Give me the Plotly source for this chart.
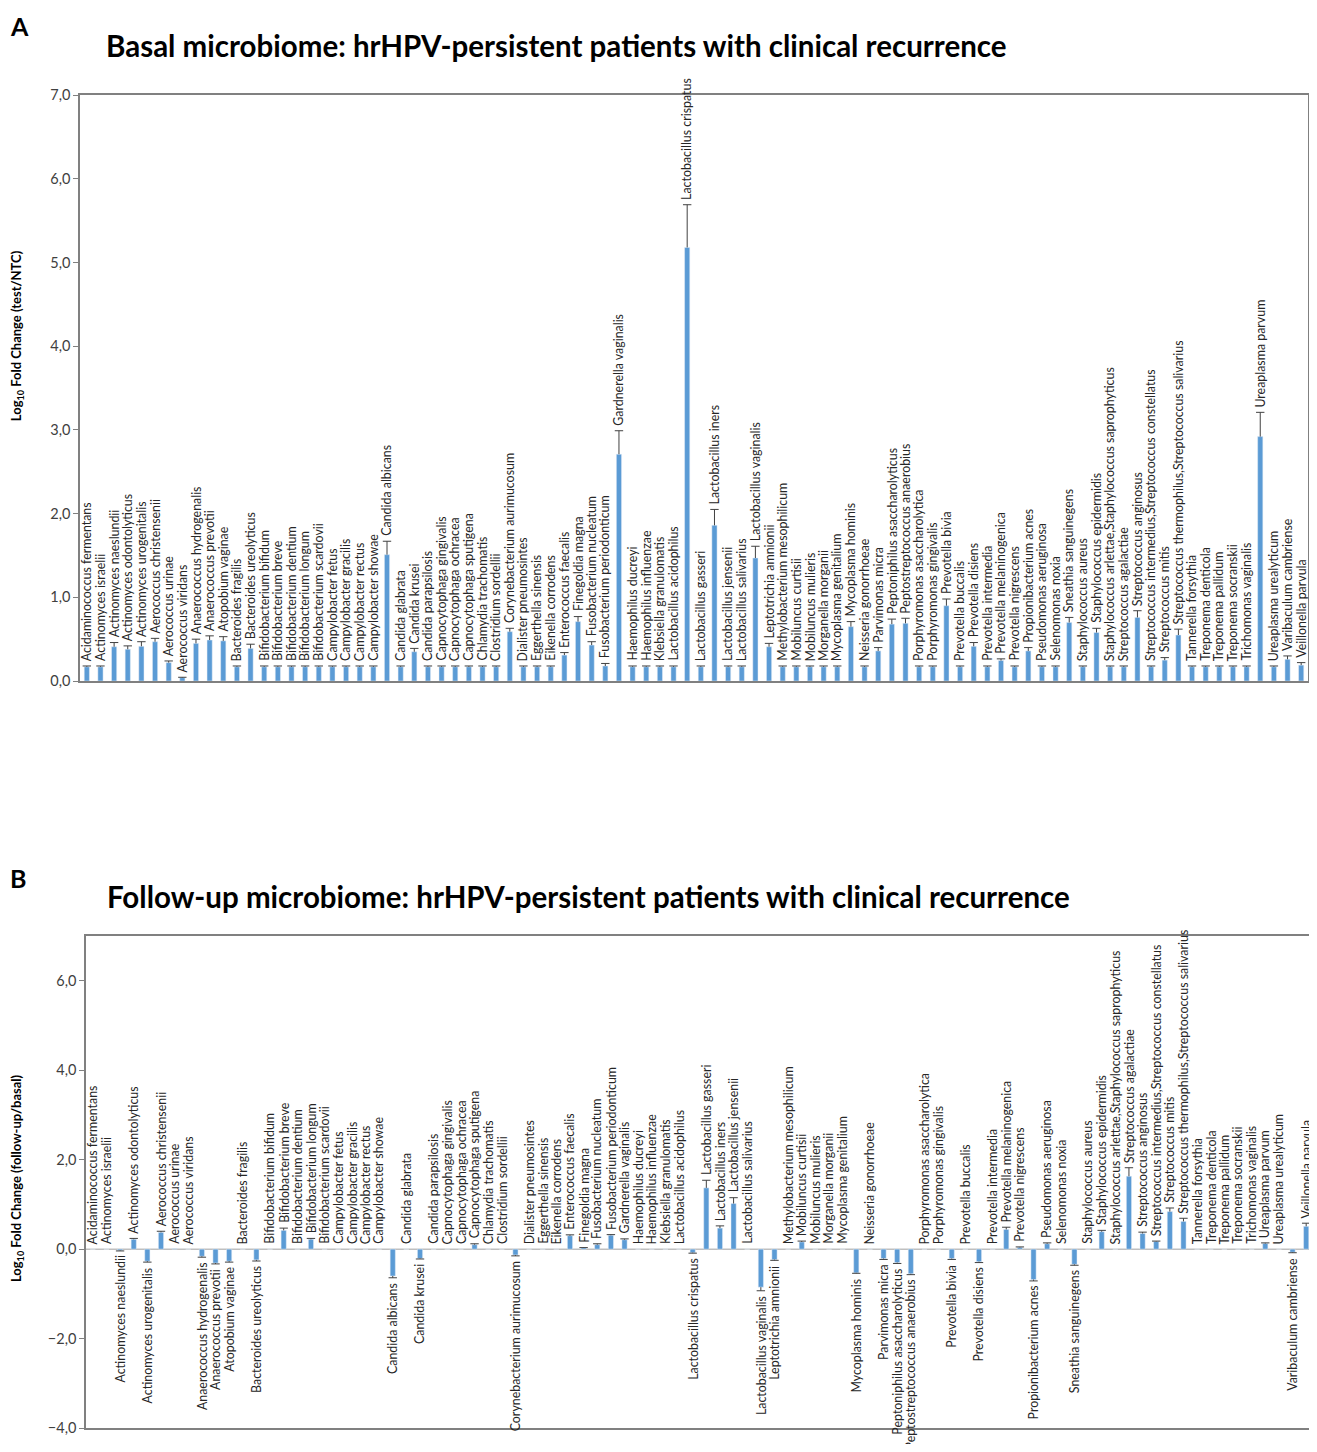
import plotly.graph_objects as go

# Espécies avaliadas (mesma ordem nos dois painéis)
especies = [
    "Acidaminococcus fermentans", "Actinomyces israelii", "Actinomyces naeslundii",
    "Actinomyces odontolyticus", "Actinomyces urogenitalis", "Aerococcus christensenii",
    "Aerococcus urinae", "Aerococcus viridans", "Anaerococcus hydrogenalis",
    "Anaerococcus prevotii", "Atopobium vaginae", "Bacteroides fragilis",
    "Bacteroides ureolyticus", "Bifidobacterium bifidum", "Bifidobacterium breve",
    "Bifidobacterium dentium", "Bifidobacterium longum", "Bifidobacterium scardovii",
    "Campylobacter fetus", "Campylobacter gracilis", "Campylobacter rectus",
    "Campylobacter showae", "Candida albicans", "Candida glabrata", "Candida krusei",
    "Candida parapsilosis", "Capnocytophaga gingivalis", "Capnocytophaga ochracea",
    "Capnocytophaga sputigena", "Chlamydia trachomatis", "Clostridium sordellii",
    "Corynebacterium aurimucosum", "Dialister pneumosintes", "Eggerthella sinensis",
    "Eikenella corrodens", "Enterococcus faecalis", "Finegoldia magna",
    "Fusobacterium nucleatum", "Fusobacterium periodonticum", "Gardnerella vaginalis",
    "Haemophilus ducreyi", "Haemophilus influenzae", "Klebsiella granulomatis",
    "Lactobacillus acidophilus", "Lactobacillus crispatus", "Lactobacillus gasseri",
    "Lactobacillus iners", "Lactobacillus jensenii", "Lactobacillus salivarius",
    "Lactobacillus vaginalis", "Leptotrichia amnionii", "Methylobacterium mesophilicum",
    "Mobiluncus curtisii", "Mobiluncus mulieris", "Morganella morganii",
    "Mycoplasma genitalium", "Mycoplasma hominis", "Neisseria gonorrhoeae",
    "Parvimonas micra", "Peptoniphilus asaccharolyticus", "Peptostreptococcus anaerobius",
    "Porphyromonas asaccharolytica", "Porphyromonas gingivalis", "Prevotella bivia",
    "Prevotella buccalis", "Prevotella disiens", "Prevotella intermedia",
    "Prevotella melaninogenica", "Prevotella nigrescens", "Propionibacterium acnes",
    "Pseudomonas aeruginosa", "Selenomonas noxia", "Sneathia sanguinegens",
    "Staphylococcus aureus", "Staphylococcus epidermidis",
    "Staphylococcus arlettae,Staphylococcus saprophyticus", "Streptococcus agalactiae",
    "Streptococcus anginosus", "Streptococcus intermedius,Streptococcus constellatus",
    "Streptococcus mitis", "Streptococcus thermophilus,Streptococcus salivarius",
    "Tannerella forsythia", "Treponema denticola", "Treponema pallidum",
    "Treponema socranskii", "Trichomonas vaginalis", "Ureaplasma parvum",
    "Ureaplasma urealyticum", "Varibaculum cambriense", "Veillonella parvula",
]

# Painel A - basal (log10 fold change test/NTC) e desvio
basal = [
    0.17, 0.17, 0.41, 0.38, 0.415, 0.47, 0.22, 0.04, 0.45, 0.49,
    0.48, 0.17, 0.39, 0.17, 0.17, 0.17, 0.17, 0.17, 0.17, 0.17,
    0.17, 0.17, 1.51, 0.17, 0.35, 0.17, 0.17, 0.17, 0.17, 0.17,
    0.17, 0.59, 0.17, 0.17, 0.17, 0.31, 0.71, 0.43, 0.18, 2.71,
    0.17, 0.17, 0.17, 0.17, 5.18, 0.17, 1.86, 0.17, 0.17, 1.47,
    0.41, 0.17, 0.17, 0.17, 0.17, 0.17, 0.65, 0.17, 0.36, 0.68,
    0.69, 0.17, 0.17, 0.90, 0.17, 0.415, 0.17, 0.245, 0.17, 0.36,
    0.17, 0.17, 0.70, 0.17, 0.58, 0.17, 0.17, 0.76, 0.17, 0.25,
    0.55, 0.17, 0.17, 0.17, 0.17, 0.17, 2.92, 0.17, 0.26, 0.19,
]
basal_dp = [
    0.01, 0.01, 0.05, 0.04, 0.055, 0.04, 0.02, 0.005, 0.05, 0.05,
    0.05, 0.01, 0.05, 0.01, 0.01, 0.01, 0.01, 0.01, 0.01, 0.01,
    0.01, 0.01, 0.16, 0.01, 0.04, 0.01, 0.01, 0.01, 0.01, 0.01,
    0.01, 0.04, 0.01, 0.01, 0.01, 0.03, 0.06, 0.04, 0.03, 0.28,
    0.01, 0.01, 0.01, 0.01, 0.51, 0.01, 0.19, 0.01, 0.01, 0.14,
    0.04, 0.01, 0.01, 0.01, 0.01, 0.01, 0.06, 0.01, 0.04, 0.06,
    0.06, 0.01, 0.01, 0.08, 0.01, 0.045, 0.01, 0.02, 0.01, 0.04,
    0.01, 0.01, 0.06, 0.01, 0.05, 0.01, 0.01, 0.08, 0.01, 0.03,
    0.07, 0.01, 0.01, 0.01, 0.01, 0.01, 0.29, 0.01, 0.04, 0.03,
]

# Painel B - seguimento (log10 fold change follow-up/basal) e desvio
seguimento = [
    0.0, 0.0, -0.03, 0.22, -0.27, 0.375, 0.01, 0.0, -0.16, -0.31,
    -0.27, 0.0, -0.24, 0.0, 0.42, 0.0, 0.22, 0.0, 0.0, 0.0,
    0.0, 0.0, -0.60, 0.0, -0.21, 0.0, 0.0, 0.0, 0.10, 0.0,
    0.0, -0.13, 0.0, 0.0, 0.0, 0.30, 0.03, 0.10, 0.31, 0.21,
    0.0, 0.0, 0.0, 0.0, -0.08, 1.37, 0.47, 1.02, 0.0, -0.85,
    -0.235, 0.0, 0.16, 0.0, 0.0, 0.0, -0.53, 0.0, -0.21, -0.30,
    -0.55, 0.0, 0.0, -0.21, 0.0, -0.28, 0.0, 0.44, 0.04, -0.68,
    0.12, 0.0, -0.34, 0.0, 0.39, 0.0, 1.63, 0.35, 0.17, 0.84,
    0.62, 0.0, 0.0, 0.0, 0.0, 0.0, 0.125, 0.0, -0.07, 0.51,
]
seguimento_dp = [
    0.0, 0.0, 0.01, 0.02, 0.02, 0.025, 0.0, 0.0, 0.02, 0.02,
    0.02, 0.0, 0.025, 0.0, 0.05, 0.0, 0.02, 0.0, 0.0, 0.0,
    0.0, 0.0, 0.04, 0.0, 0.01, 0.0, 0.0, 0.0, 0.02, 0.0,
    0.0, 0.02, 0.0, 0.0, 0.0, 0.02, 0.005, 0.02, 0.015, 0.02,
    0.0, 0.0, 0.0, 0.0, 0.01, 0.17, 0.05, 0.13, 0.0, 0.08,
    0.015, 0.0, 0.02, 0.0, 0.0, 0.0, 0.01, 0.0, 0.02, 0.02,
    0.02, 0.0, 0.0, 0.02, 0.0, 0.02, 0.0, 0.05, 0.01, 0.03,
    0.02, 0.0, 0.02, 0.0, 0.03, 0.0, 0.19, 0.03, 0.01, 0.08,
    0.07, 0.0, 0.0, 0.0, 0.0, 0.0, 0.015, 0.0, 0.01, 0.07,
]

# a pagina tem 8 px de margem no body
W, H = 1317 - 8, 1452 - 16
azul = "#5B9BD5"
fonte = "Lato"


def px(x):
    return (x - 8) / W


def py(y):
    return 1 - (y - 8) / H


fig = go.Figure()


def painel(valores, desvios, n):
    eixo_x = "x" if n == 1 else "x%d" % n
    eixo_y = "y" if n == 1 else "y%d" % n
    fig.add_trace(go.Bar(x=especies, y=valores, marker_color=azul, width=0.38,
                         xaxis=eixo_x, yaxis=eixo_y, showlegend=False))
    # barras de erro so para o lado de fora da barra (estilo Excel)
    lx, ly, cx, cy = [], [], [], []
    for nome, v, d in zip(especies, valores, desvios):
        if d <= 0:
            continue
        fim = v + d if v >= 0 else v - d
        lx += [nome, nome, None]
        ly += [v, fim, None]
        cx.append(nome)
        cy.append(fim)
    fig.add_trace(go.Scatter(x=lx, y=ly, mode="lines", line=dict(color="#404040", width=1),
                             xaxis=eixo_x, yaxis=eixo_y, showlegend=False, hoverinfo="skip"))
    fig.add_trace(go.Scatter(x=cx, y=cy, mode="markers",
                             marker=dict(symbol="line-ew", size=6, line=dict(color="#404040", width=1)),
                             xaxis=eixo_x, yaxis=eixo_y, showlegend=False, hoverinfo="skip"))
    # rotulos verticais
    for nome, v, d in zip(especies, valores, desvios):
        fim = v + d if v >= 0 else v - d
        fig.add_annotation(x=nome, y=fim, xref=eixo_x, yref=eixo_y, text=nome, textangle=-90,
                           showarrow=False, xanchor="center",
                           yanchor="bottom" if v >= 0 else "top",
                           yshift=3 if v >= 0 else -3,
                           font=dict(family=fonte, size=12.4, color="#262626"))


painel(basal, basal_dp, 1)
painel(seguimento, seguimento_dp, 2)

eixo_comum = dict(showline=True, linecolor="#808080", linewidth=1.5, mirror=True,
                  showgrid=False, zeroline=False)
eixo_y_comum = dict(tickformat=".1f", ticks="outside", ticklen=5, tickcolor="#808080",
                    tickfont=dict(family=fonte, size=14.5, color="#404040"))

fig.update_layout(
    width=W, height=H,
    margin=dict(l=0, r=0, t=0, b=0),
    plot_bgcolor="white", paper_bgcolor="white",
    separators=",.",
    font=dict(family=fonte, color="#404040"),
    xaxis=dict(domain=[px(80), px(1308)], anchor="y", showticklabels=False, ticks="",
               range=[-0.5, len(especies) - 0.5], **eixo_comum),
    yaxis=dict(domain=[py(680), py(87)], anchor="x", range=[0, 7], dtick=1,
               **eixo_y_comum, **eixo_comum),
    xaxis2=dict(domain=[px(86), px(1313)], anchor="y2", showticklabels=False, ticks="",
                range=[-0.5, len(especies) - 0.5], **eixo_comum),
    yaxis2=dict(domain=[py(1436), py(938)], anchor="x2", range=[-4, 7],
                tickvals=[-4, -2, 0, 2, 4, 6], **eixo_y_comum, **eixo_comum),
)

# linha do zero no painel B
fig.add_shape(type="line", xref="x2 domain", yref="y2", x0=0, x1=1, y0=0, y1=0,
              line=dict(color="#BFBFBF", width=1.5), layer="below")

# titulos e letras dos paineis
fig.add_annotation(x=px(8), y=py(17), xref="paper", yref="paper", text="<b>A</b>",
                   showarrow=False, xanchor="left", yanchor="middle",
                   font=dict(family=fonte, size=25, color="black"))
fig.add_annotation(x=px(104), y=py(37), xref="paper", yref="paper",
                   text="<b>Basal microbiome: hrHPV-persistent patients with clinical recurrence</b>",
                   showarrow=False, xanchor="left", yanchor="middle",
                   font=dict(family=fonte, size=29.5, color="black"))
fig.add_annotation(x=px(8), y=py(879), xref="paper", yref="paper", text="<b>B</b>",
                   showarrow=False, xanchor="left", yanchor="middle",
                   font=dict(family=fonte, size=25, color="black"))
fig.add_annotation(x=px(105), y=py(898), xref="paper", yref="paper",
                   text="<b>Follow-up microbiome: hrHPV-persistent patients with clinical recurrence</b>",
                   showarrow=False, xanchor="left", yanchor="middle",
                   font=dict(family=fonte, size=29.5, color="black"))

# titulos dos eixos y
fig.add_annotation(x=px(17), y=py(331), xref="paper", yref="paper",
                   text="<b>Log<sub>10</sub> Fold Change (test/NTC)</b>", textangle=-90,
                   showarrow=False, xanchor="center", yanchor="middle",
                   font=dict(family=fonte, size=13, color="black"))
fig.add_annotation(x=px(17), y=py(1183), xref="paper", yref="paper",
                   text="<b>Log<sub>10</sub> Fold Change (follow-up/basal)</b>", textangle=-90,
                   showarrow=False, xanchor="center", yanchor="middle",
                   font=dict(family=fonte, size=13, color="black"))

fig.write_html("out.html")
